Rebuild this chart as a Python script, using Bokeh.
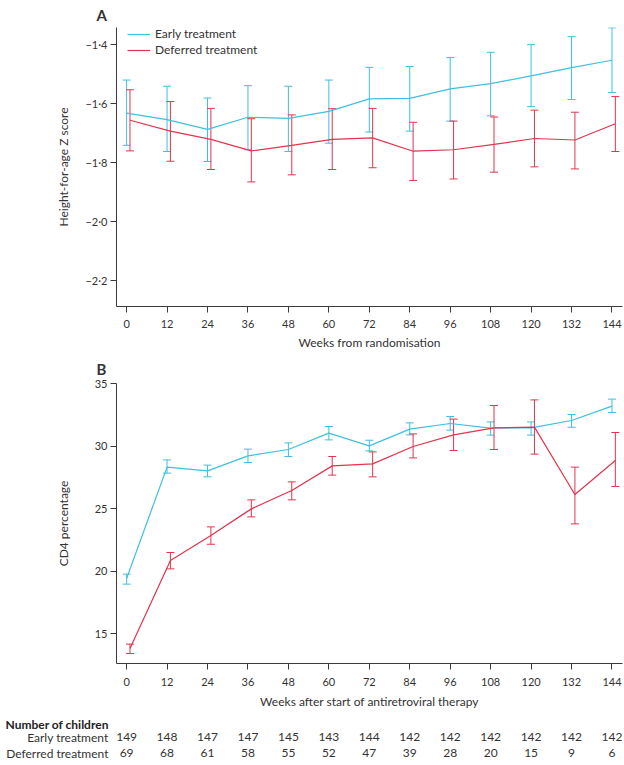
from bokeh.plotting import figure
from bokeh.models import (ColumnDataSource, Whisker, TeeHead, FixedTicker, Range1d,
                          Legend, LegendItem, CustomJSTickFormatter)
from bokeh.layouts import column
from bokeh.embed import file_html
from bokeh.resources import INLINE
from bokeh.core.properties import value
from bokeh.transform import dodge

# ---------------- data ----------------
weeks = [0, 12, 24, 36, 48, 60, 72, 84, 96, 108, 120, 132, 144]

haz_early = [-1.633, -1.655, -1.688, -1.647, -1.651, -1.627, -1.585, -1.583, -1.551, -1.533, -1.507, -1.479, -1.454]
haz_early_hi = [-1.521, -1.542, -1.582, -1.540, -1.542, -1.521, -1.478, -1.475, -1.445, -1.427, -1.401, -1.374, -1.344]
haz_early_lo = [-1.742, -1.763, -1.797, -1.757, -1.763, -1.735, -1.697, -1.694, -1.660, -1.642, -1.611, -1.587, -1.563]

haz_def = [-1.657, -1.694, -1.722, -1.761, -1.742, -1.722, -1.717, -1.762, -1.757, -1.739, -1.719, -1.724, -1.669]
haz_def_hi = [-1.554, -1.594, -1.617, -1.652, -1.639, -1.618, -1.617, -1.664, -1.660, -1.646, -1.623, -1.630, -1.577]
haz_def_lo = [-1.761, -1.796, -1.824, -1.866, -1.842, -1.824, -1.818, -1.861, -1.856, -1.833, -1.815, -1.822, -1.763]

cd4_early = [19.4, 28.31, 28.01, 29.21, 29.72, 31.03, 30.01, 31.35, 31.8, 31.43, 31.45, 32.04, 33.19]
cd4_early_hi = [19.75, 28.89, 28.47, 29.75, 30.25, 31.56, 30.46, 31.85, 32.36, 31.93, 31.93, 32.52, 33.75]
cd4_early_lo = [18.95, 27.83, 27.53, 28.68, 29.16, 30.49, 29.61, 30.89, 31.27, 30.87, 30.87, 31.5, 32.68]

cd4_def = [13.8, 20.84, 22.84, 24.97, 26.44, 28.41, 28.57, 29.96, 30.89, 31.45, 31.51, 26.12, 28.84]
cd4_def_hi = [14.15, 21.48, 23.53, 25.69, 27.13, 29.16, 29.53, 30.97, 32.15, 33.24, 33.69, 28.31, 31.08]
cd4_def_lo = [13.4, 20.17, 22.14, 24.33, 25.69, 27.67, 27.53, 29.05, 29.64, 29.72, 29.35, 23.77, 26.76]

n_early = [149, 148, 147, 147, 145, 143, 144, 142, 142, 142, 142, 142, 142]
n_def = [69, 68, 61, 58, 55, 52, 47, 39, 28, 20, 15, 9, 6]

haz_ticks = [-2.2, -2.0, -1.8, -1.6, -1.4]
cd4_ticks = [15, 20, 25, 30, 35]

series_names = ["Early treatment", "Deferred treatment"]
panel_titles = ["A", "B"]
x_titles = ["Weeks from randomisation", "Weeks after start of antiretroviral therapy"]
y_titles = ["Height-for-age Z score", "CD4 percentage"]
table_title = "Number of children"

# ---------------- style ----------------
BLUE = "#3fbfe1"
RED = "#e0354d"
TXT = "#333333"
AX = "#3a3a3a"
FONT = "Lato"
W = 624
BL, BR = 116, 2
X0, X1 = -3, 147.12
DODGE = 1.0


def style(p, yticks, ytitle, xtitle, y_standoff):
    p.outline_line_color = None
    p.xgrid.visible = False
    p.ygrid.visible = False
    for ax in (p.xaxis[0], p.yaxis[0]):
        ax.axis_line_color = AX
        ax.axis_line_width = 1
        ax.major_tick_line_color = AX
        ax.major_tick_out = 6
        ax.major_tick_in = 0
        ax.minor_tick_line_color = None
        ax.major_label_text_font = FONT
        ax.major_label_text_font_size = "11px"
        ax.major_label_text_color = TXT
        ax.axis_label_text_font = FONT
        ax.axis_label_text_font_size = "12px"
        ax.axis_label_text_font_style = "normal"
        ax.axis_label_text_color = TXT
    p.xaxis.ticker = FixedTicker(ticks=weeks)
    p.xaxis.major_label_standoff = 7
    p.xaxis.axis_label_standoff = 4
    p.xaxis.axis_label = xtitle
    p.yaxis.ticker = FixedTicker(ticks=yticks)
    p.yaxis.major_label_standoff = 3
    p.yaxis.axis_label = ytitle
    p.yaxis.axis_label_standoff = y_standoff


def add_series(p, y, lo, hi, color, offset):
    src = ColumnDataSource(dict(x=weeks, y=y, lo=lo, hi=hi))
    r = p.line(dodge("x", offset), "y", source=src, line_color=color, line_width=1.2)
    wk = Whisker(base=dodge("x", offset), upper="hi", lower="lo", source=src,
                 line_color=color, line_width=1,
                 upper_head=TeeHead(size=8, line_color=color, line_width=1),
                 lower_head=TeeHead(size=8, line_color=color, line_width=1))
    p.add_layout(wk)
    return r


def panel_title(p, text, standoff):
    p.title.text = text
    p.title.align = "left"
    p.title.offset = -20
    p.title.standoff = standoff
    p.title.text_font = FONT
    p.title.text_font_size = "15px"
    p.title.text_font_style = "bold"
    p.title.text_color = TXT


# ---------------- panel A ----------------
pA = figure(width=W, height=352, output_backend="svg", toolbar_location=None,
            x_range=Range1d(X0, X1), y_range=Range1d(-2.288, -1.343),
            min_border_left=BL, min_border_right=BR, min_border_top=27, min_border_bottom=44)
style(pA, haz_ticks, y_titles[0], x_titles[0], 11)
pA.yaxis.formatter = CustomJSTickFormatter(
    code="return tick.toFixed(1).replace('-', '\\u2212').replace('.', '\\u00b7');")
rA1 = add_series(pA, haz_early, haz_early_lo, haz_early_hi, BLUE, 0)
rA2 = add_series(pA, haz_def, haz_def_lo, haz_def_hi, RED, DODGE)
leg = Legend(items=[LegendItem(label=series_names[0], renderers=[rA1]),
                    LegendItem(label=series_names[1], renderers=[rA2])],
             location=(11, 249), padding=0, margin=0, spacing=1,
             label_height=14, glyph_height=14, glyph_width=23, label_standoff=5,
             label_text_font=FONT, label_text_font_size="12px", label_text_color=TXT,
             border_line_color=None, background_fill_alpha=0)
pA.add_layout(leg)
panel_title(pA, panel_titles[0], 7)

# ---------------- panel B ----------------
pB = figure(width=W, height=361, output_backend="svg", toolbar_location=None,
            x_range=pA.x_range, y_range=Range1d(12.6, 35),
            min_border_left=BL, min_border_right=BR, min_border_top=31, min_border_bottom=50)
style(pB, cd4_ticks, y_titles[1], x_titles[1], 21)
pB.xaxis.major_label_standoff = 8
pB.xaxis.axis_label_standoff = 5
add_series(pB, cd4_early, cd4_early_lo, cd4_early_hi, BLUE, 0)
add_series(pB, cd4_def, cd4_def_lo, cd4_def_hi, RED, DODGE)
panel_title(pB, panel_titles[1], 11)

# ---------------- number-at-risk table ----------------
FT = 35  # frame height of the table strip
pT = figure(width=W, height=52, output_backend="svg", toolbar_location=None,
            x_range=pA.x_range, y_range=Range1d(-FT, 0),
            min_border_left=BL, min_border_right=BR, min_border_top=17, min_border_bottom=0,
            x_axis_type=None)
pT.outline_line_color = None
pT.xgrid.visible = False
pT.ygrid.visible = False
row_y = [-5, -22]
for cnts, yy in zip([n_early, n_def], row_y):
    pT.text(x=weeks, y=[yy] * len(weeks), text=[str(c) for c in cnts],
            text_font=value(FONT), text_font_size="12px", text_color=TXT,
            text_align="center", text_baseline="middle")
ya = pT.yaxis[0]
ya.ticker = FixedTicker(ticks=row_y)
ya.major_label_overrides = {row_y[0]: series_names[0], row_y[1]: series_names[1]}
ya.axis_line_color = None
ya.major_tick_line_color = None
ya.minor_tick_line_color = None
ya.major_tick_out = 0
ya.major_tick_in = 0
ya.major_label_standoff = 8
ya.major_label_text_font = FONT
ya.major_label_text_font_size = "12px"
ya.major_label_text_color = TXT
pT.title.text = table_title
pT.title.align = "left"
pT.title.offset = -111
pT.title.standoff = 2
pT.title.text_font = FONT
pT.title.text_font_size = "12px"
pT.title.text_font_style = "bold"
pT.title.text_color = "#222222"

layout = column(pA, pB, pT)
open("out.html", "w").write(file_html(layout, INLINE))
